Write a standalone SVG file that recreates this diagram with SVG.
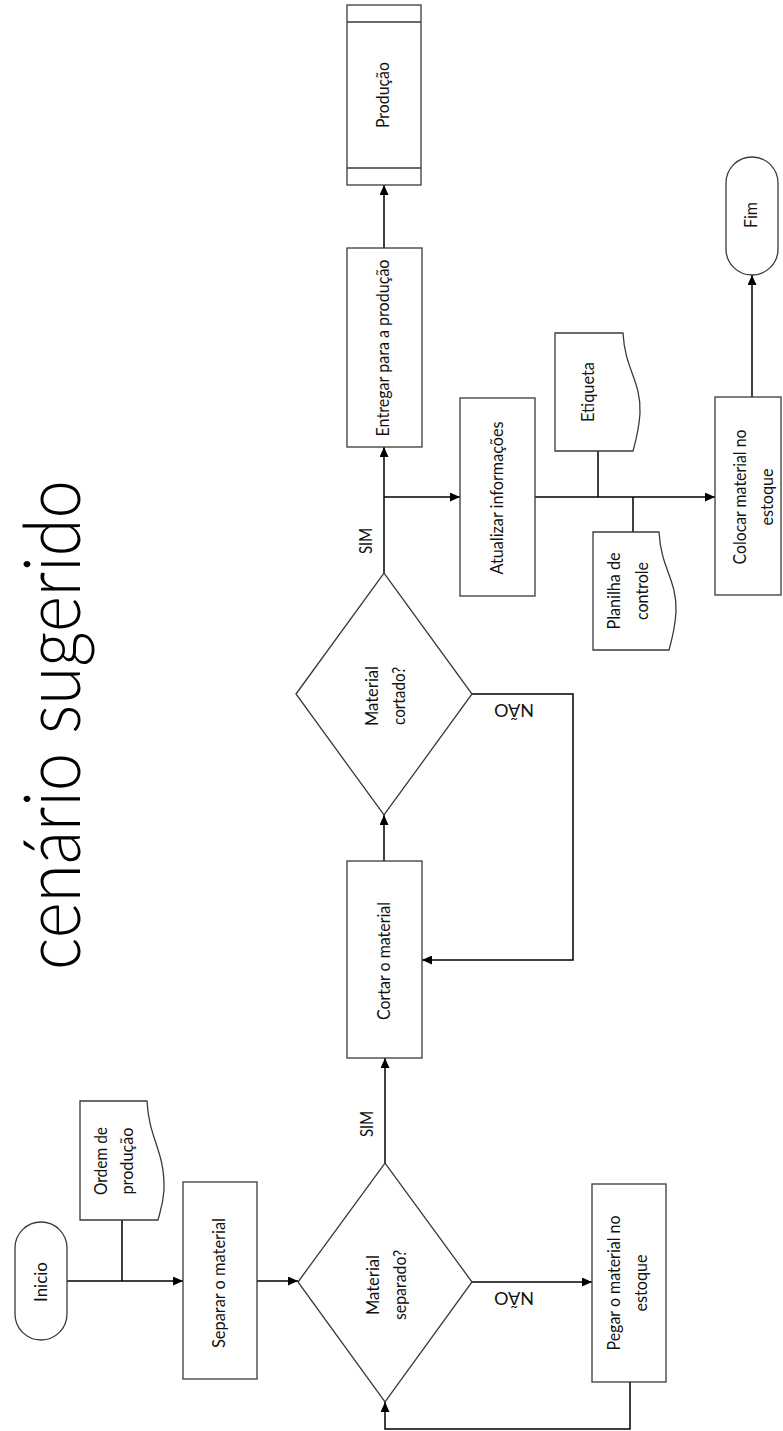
<svg xmlns="http://www.w3.org/2000/svg" width="783" height="1431" viewBox="0 0 783 1431">
<style>
.shape{fill:#fff;stroke:#3a3a3a;stroke-width:1.3}
.conn{fill:none;stroke:#000;stroke-width:1.5}
.lbl{font-family:Lato,"Open Sans","Liberation Sans",sans-serif;font-size:16.5px;fill:#111;text-anchor:middle}
.title{font-family:Lato,"Open Sans","Liberation Sans",sans-serif;font-size:78px;font-weight:300;fill:#000}
</style>
<defs>
<marker id="arr" markerUnits="userSpaceOnUse" markerWidth="11" markerHeight="9" refX="10" refY="4.5" orient="auto">
<path d="M0,0 L10,4.5 L0,9 z" fill="#000"/>
</marker>
</defs>
<rect width="783" height="1431" fill="#fff"/>

<text class="title" transform="translate(80,970) rotate(-90)" textLength="490" lengthAdjust="spacingAndGlyphs">cenário sugerido</text>

<g id="connectors">
<path class="conn" d="M67,1281 H183" marker-end="url(#arr)"/>
<path class="conn" d="M122,1220 V1281"/>
<path class="conn" d="M257,1281 H298" marker-end="url(#arr)"/>
<path class="conn" d="M385,1163 V1058" marker-end="url(#arr)"/>
<path class="conn" d="M472,1282 H592" marker-end="url(#arr)"/>
<path class="conn" d="M630,1382 V1429 H385 V1402" marker-end="url(#arr)"/>
<path class="conn" d="M384,861 V815" marker-end="url(#arr)"/>
<path class="conn" d="M472,694 H573 V960 H422" marker-end="url(#arr)"/>
<path class="conn" d="M384,573 V447" marker-end="url(#arr)"/>
<path class="conn" d="M384,497 H460" marker-end="url(#arr)"/>
<path class="conn" d="M384,248 V185" marker-end="url(#arr)"/>
<path class="conn" d="M535,497 H715" marker-end="url(#arr)"/>
<path class="conn" d="M598,451 V497"/>
<path class="conn" d="M633,532 V497"/>
<path class="conn" d="M752,397 V275" marker-end="url(#arr)"/>
<text class="lbl" transform="translate(373,1124) rotate(-90)" textLength="26" lengthAdjust="spacingAndGlyphs">SIM</text>
<text class="lbl" transform="translate(514,1292) rotate(180)" textLength="40" lengthAdjust="spacingAndGlyphs">NÃO</text>
<text class="lbl" transform="translate(372,541) rotate(-90)" textLength="26" lengthAdjust="spacingAndGlyphs">SIM</text>
<text class="lbl" transform="translate(514,704) rotate(180)" textLength="40" lengthAdjust="spacingAndGlyphs">NÃO</text>
</g>

<g id="inicio">
<rect class="shape" x="15" y="1222" width="52" height="118" rx="26" ry="26"/>
<text class="lbl" transform="translate(47,1282) rotate(-90)" textLength="40" lengthAdjust="spacingAndGlyphs">Inicio</text>
</g>

<g id="ordem">
<path class="shape" d="M80,1101 H147 C149,1140 165,1150 164,1190 C163,1205 160,1212 158,1220 H80 Z"/>
<text class="lbl" transform="translate(107,1161) rotate(-90)"><tspan x="0" y="0" textLength="68" lengthAdjust="spacingAndGlyphs">Ordem de</tspan><tspan x="0" y="26" textLength="67" lengthAdjust="spacingAndGlyphs">produção</tspan></text>
</g>

<g id="separar">
<rect class="shape" x="183" y="1182" width="74" height="197"/>
<text class="lbl" transform="translate(225,1283) rotate(-90)" textLength="130" lengthAdjust="spacingAndGlyphs">Separar o material</text>
</g>

<g id="decisao1">
<path class="shape" d="M298,1282 L385,1163 L472,1282 L385,1402 Z"/>
<text class="lbl" transform="translate(379,1285) rotate(-90)"><tspan x="0" y="0" textLength="60" lengthAdjust="spacingAndGlyphs">Material</tspan><tspan x="0" y="27" textLength="70" lengthAdjust="spacingAndGlyphs">separado?</tspan></text>
</g>

<g id="pegar">
<rect class="shape" x="592" y="1184" width="74" height="198"/>
<text class="lbl" transform="translate(620,1283) rotate(-90)"><tspan x="0" y="0" textLength="135" lengthAdjust="spacingAndGlyphs">Pegar o material no</tspan><tspan x="0" y="27" textLength="57" lengthAdjust="spacingAndGlyphs">estoque</tspan></text>
</g>

<g id="cortar">
<rect class="shape" x="347" y="861" width="75" height="197"/>
<text class="lbl" transform="translate(390,961) rotate(-90)" textLength="118" lengthAdjust="spacingAndGlyphs">Cortar o material</text>
</g>

<g id="decisao2">
<path class="shape" d="M296,694 L384,573 L472,694 L384,815 Z"/>
<text class="lbl" transform="translate(378,696) rotate(-90)"><tspan x="0" y="0" textLength="60" lengthAdjust="spacingAndGlyphs">Material</tspan><tspan x="0" y="27" textLength="58" lengthAdjust="spacingAndGlyphs">cortado?</tspan></text>
</g>

<g id="entregar">
<rect class="shape" x="347" y="248" width="75" height="199"/>
<text class="lbl" transform="translate(389,348) rotate(-90)" textLength="177" lengthAdjust="spacingAndGlyphs">Entregar para a produção</text>
</g>

<g id="producao">
<rect class="shape" x="347" y="5" width="74" height="180"/>
<path class="shape" d="M347,22 H421 M347,168 H421"/>
<text class="lbl" transform="translate(389,95) rotate(-90)" textLength="66" lengthAdjust="spacingAndGlyphs">Produção</text>
</g>

<g id="atualizar">
<rect class="shape" x="460" y="398" width="75" height="198"/>
<text class="lbl" transform="translate(503,498) rotate(-90)" textLength="153" lengthAdjust="spacingAndGlyphs">Atualizar informações</text>
</g>

<g id="etiqueta">
<path class="shape" d="M555,333 H623 C625,370 641,380 640,413 C639,430 636,440 633,451 H555 Z"/>
<text class="lbl" transform="translate(594,392) rotate(-90)" textLength="60" lengthAdjust="spacingAndGlyphs">Etiqueta</text>
</g>

<g id="planilha">
<path class="shape" d="M593,532 H659 C661,569 677,579 676,612 C675,629 672,639 669,650 H593 Z"/>
<text class="lbl" transform="translate(620,591) rotate(-90)"><tspan x="0" y="0" textLength="77" lengthAdjust="spacingAndGlyphs">Planilha de</tspan><tspan x="0" y="28" textLength="58" lengthAdjust="spacingAndGlyphs">controle</tspan></text>
</g>

<g id="colocar">
<rect class="shape" x="715" y="397" width="66" height="198"/>
<text class="lbl" transform="translate(746,497) rotate(-90)"><tspan x="0" y="0" textLength="135" lengthAdjust="spacingAndGlyphs">Colocar material no</tspan><tspan x="0" y="27" textLength="57" lengthAdjust="spacingAndGlyphs">estoque</tspan></text>
</g>

<g id="fim">
<rect class="shape" x="726" y="157" width="52" height="118" rx="26" ry="26"/>
<text class="lbl" transform="translate(757,215) rotate(-90)" textLength="26" lengthAdjust="spacingAndGlyphs">Fim</text>
</g>
</svg>
